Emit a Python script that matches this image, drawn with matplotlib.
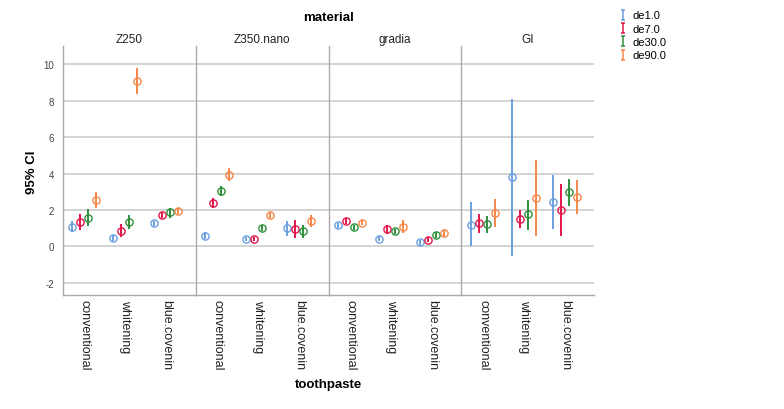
import matplotlib
matplotlib.use("Agg")
import matplotlib.pyplot as plt
import numpy as np
from matplotlib.path import Path
from matplotlib.lines import Line2D

plt.rcParams['font.family'] = ['Liberation Sans', 'DejaVu Sans']
plt.rcParams['axes.unicode_minus'] = False

materials = ["Z250", "Z350.nano", "gradia", "GI"]
toothpastes = ["conventional", "whitening", "blue.covenin"]
series = ["de1.0", "de7.0", "de30.0", "de90.0"]
colors = ["#6a9fdf", "#e2154a", "#2e8f3a", "#f5874a"]

# mean values [material][series][toothpaste]
means = {
    "Z250":      [[1.07, 0.47, 1.26], [1.34, 0.85, 1.71], [1.58, 1.34, 1.86], [2.55, 9.10, 1.95]],
    "Z350.nano": [[0.58, 0.40, 1.00], [2.40, 0.40, 0.95], [3.02, 1.02, 0.82], [3.93, 1.73, 1.40]],
    "gradia":    [[1.16, 0.42, 0.23], [1.38, 0.95, 0.36], [1.05, 0.82, 0.64], [1.29, 1.07, 0.73]],
    "GI":        [[1.20, 3.80, 2.46], [1.27, 1.49, 1.97], [1.22, 1.75, 2.97], [1.84, 2.64, 2.69]],
}
upper = {
    "Z250":      [[1.42, 0.62, 1.38], [1.80, 1.22, 1.86], [2.04, 1.73, 2.08], [3.00, 9.80, 2.13]],
    "Z350.nano": [[0.77, 0.49, 1.40], [2.68, 0.49, 1.45], [3.31, 1.16, 1.18], [4.28, 1.91, 1.73]],
    "gradia":    [[1.31, 0.56, 0.37], [1.53, 1.20, 0.50], [1.20, 0.96, 0.79], [1.44, 1.44, 0.91]],
    "GI":        [[2.42, 8.09, 3.91], [1.80, 1.97, 3.40], [1.69, 2.55, 3.72], [2.58, 4.72, 3.62]],
}
lower = {
    "Z250":      [[0.77, 0.31, 1.13], [0.89, 0.49, 1.55], [1.13, 0.95, 1.58], [2.09, 8.38, 1.77]],
    "Z350.nano": [[0.40, 0.31, 0.58], [2.13, 0.31, 0.44], [2.77, 0.87, 0.44], [3.58, 1.55, 1.07]],
    "gradia":    [[1.02, 0.28, 0.09], [1.24, 0.69, 0.22], [0.91, 0.68, 0.48], [1.15, 0.71, 0.53]],
    "GI":        [[0.00, -0.51, 0.96], [0.71, 1.00, 0.55], [0.73, 0.91, 2.19], [1.09, 0.56, 1.75]],
}

yticks = [-2, 0, 2, 4, 6, 8, 10]

fig = plt.figure(figsize=(7.84, 4.10), dpi=100)

left0 = 62.7 / 784
pw = 132.9 / 784
bottom = 1 - 296 / 410
height = (296 - 47) / 410
offsets = np.array([-1.5, -0.5, 0.5, 1.5]) * 0.197
xpos = np.arange(len(toothpastes))

axes = []
for i, mat in enumerate(materials):
    ax = fig.add_axes([left0 + i * pw, bottom, pw, height])
    axes.append(ax)
    for y in yticks:
        ax.axhline(y, color="#cccccc", lw=1.2, zorder=0)
    for s in range(len(series)):
        m = np.array(means[mat][s])
        lo = m - np.array(lower[mat][s])
        hi = np.array(upper[mat][s]) - m
        ax.errorbar(xpos + offsets[s], m, yerr=[lo, hi], fmt='o', ms=5.2,
                    mfc='none', mec=colors[s], mew=1.0, ecolor=colors[s],
                    elinewidth=1.4, capsize=0, zorder=3)
    ax.set_xlim(-0.53, 2.72)
    ax.set_ylim(-2.67, 11.0)
    ax.set_yticks(yticks)
    ax.set_xticks(xpos)
    ax.set_xticklabels(toothpastes, rotation=-90, fontsize=9, color="#222222",
                       va='top', ha='center')
    ax.tick_params(axis='x', length=0, pad=3)
    ax.tick_params(axis='y', length=0, pad=6, labelsize=7, labelcolor="#444444")
    if i > 0:
        ax.set_yticklabels([])
    for sp in ["top", "right"]:
        ax.spines[sp].set_visible(False)
    for sp in ["left", "bottom"]:
        ax.spines[sp].set_color("#aaaaaa")
        ax.spines[sp].set_linewidth(1.0)
    ax.set_title(mat, fontsize=8.5, pad=3, color="#222222")

fig.text(left0 + 2 * pw, 1 - 18 / 410, "material",
         ha='center', va='center', fontsize=9.5, fontweight='bold')
fig.text(left0 + 2 * pw, 1 - 385 / 410, "toothpaste", ha='center', va='center',
         fontsize=9.5, fontweight='bold')
fig.text(32 / 784, 1 - 172 / 410, "95% CI", rotation=90, ha='center', va='center',
         fontsize=9.5, fontweight='bold')

ibeam = Path([(-0.35, -1), (0.35, -1), (0, -1), (0, 1), (-0.35, 1), (0.35, 1)],
             [Path.MOVETO, Path.LINETO, Path.MOVETO, Path.LINETO, Path.MOVETO, Path.LINETO])
handles = [Line2D([], [], linestyle='none', marker=ibeam, ms=7, mec=c, mfc='none', mew=1.1)
           for c in colors]
fig.legend(handles, series, loc='upper left', bbox_to_anchor=(614 / 784, 1 - 7 / 410),
           frameon=False, fontsize=8, handlelength=0.8, handletextpad=0.5,
           labelspacing=0.3, borderaxespad=0)

fig.savefig("out.png", dpi=100, facecolor='white')
